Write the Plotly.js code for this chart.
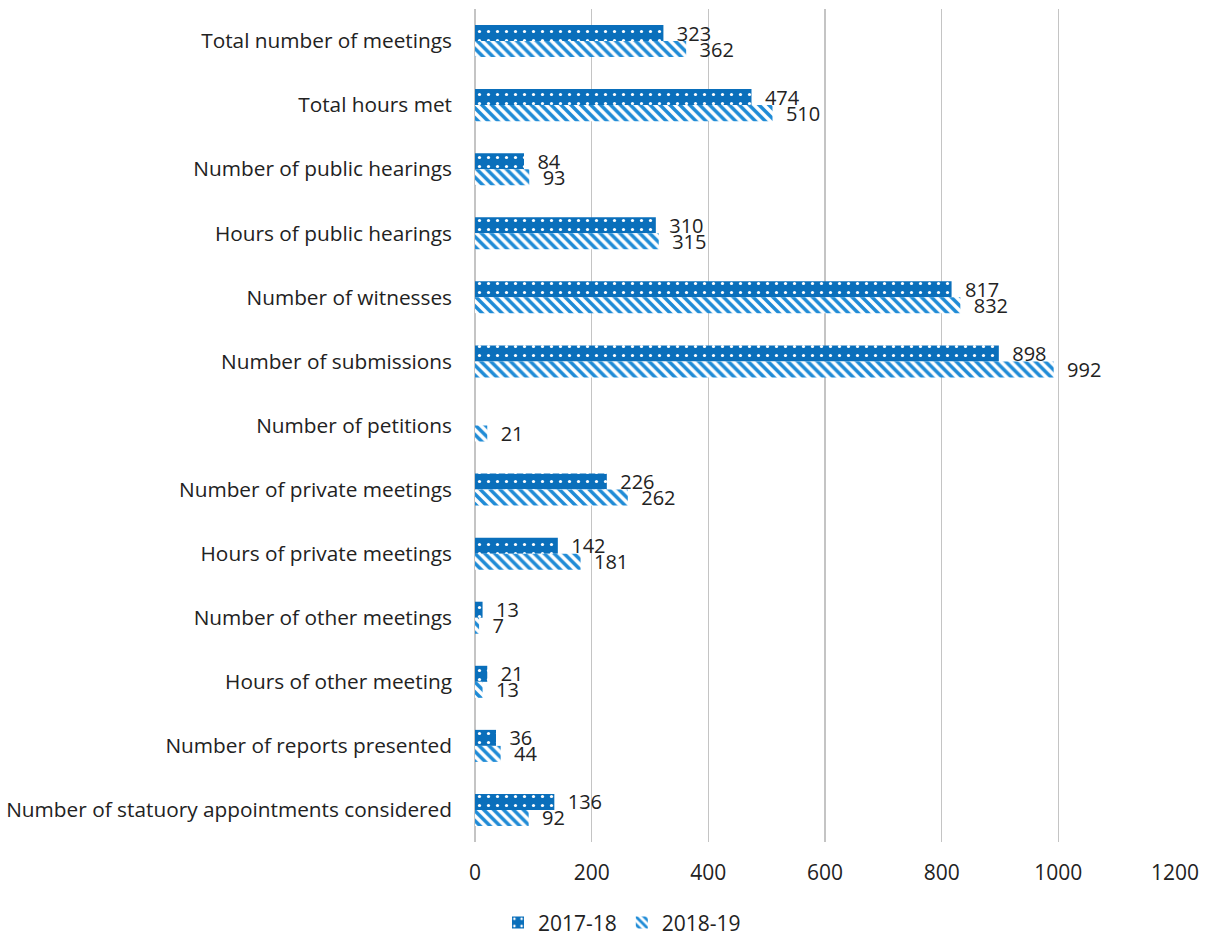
<!DOCTYPE html>
<html>
<head>
<meta charset="utf-8">
<script src="https://cdn.plot.ly/plotly-3.0.1.min.js"></script>
<style>html,body{margin:0;padding:0;background:#fff;}#chart{width:1206px;height:936px;}</style>
</head>
<body>
<div id="chart"></div>
<script>
const categories = [
  "Total number of meetings",
  "Total hours met",
  "Number of public hearings",
  "Hours of public hearings",
  "Number of witnesses",
  "Number of submissions",
  "Number of petitions",
  "Number of private meetings",
  "Hours of private meetings",
  "Number of other meetings",
  "Hours of other meeting",
  "Number of reports presented",
  "Number of statuory appointments considered"
];
const values2017 = [323, 474, 84, 310, 817, 898, null, 226, 142, 13, 21, 36, 136];
const values2018 = [362, 510, 93, 315, 832, 992, 21, 262, 181, 7, 13, 44, 92];
const xTicks = [0, 200, 400, 600, 800, 1000, 1200];

const blue = "#0a6fbb";
const hatchBlue = "#1f8bd6";
const fontFam = "'Open Sans', 'Noto Sans', sans-serif";
const pad = "\u00a0\u00a0";

const traces = [
  {
    type: "bar", orientation: "h", name: "2017-18",
    y: categories, x: values2017,
    text: values2017.map(v => v === null ? "" : pad + v),
    textposition: "outside", cliponaxis: false, constraintext: "none",
    textfont: {size: 20, color: "#222", family: fontFam},
    marker: {color: blue, pattern: {shape: ".", fgcolor: "#ffffff", bgcolor: blue, size: 9, solidity: 0.1, fillmode: "replace"}},
    hoverinfo: "x+y"
  },
  {
    type: "bar", orientation: "h", name: "2018-19",
    y: categories, x: values2018,
    text: values2018.map(v => pad + v),
    textposition: "outside", cliponaxis: false, constraintext: "none",
    textfont: {size: 20, color: "#222", family: fontFam},
    marker: {color: "#ffffff", pattern: {shape: "\\", fgcolor: hatchBlue, bgcolor: "#ffffff", size: 7, solidity: 0.5, fillmode: "replace"}},
    hoverinfo: "x+y"
  }
];

const layout = {
  width: 1206, height: 936,
  margin: {l: 475, r: 31, t: 9, b: 94, autoexpand: false},
  paper_bgcolor: "#fff", plot_bgcolor: "#fff",
  barmode: "group", bargap: 0.5, bargroupgap: 0,
  font: {family: fontFam, size: 21, color: "#222"},
  xaxis: {
    range: [0, 1200], tickvals: xTicks, ticktext: xTicks.map(String),
    showgrid: true, gridcolor: "#c4c4c4", gridwidth: 1.2,
    zeroline: true, zerolinecolor: "#c4c4c4", zerolinewidth: 1.2,
    showline: false, ticks: "", ticklen: 0, ticklabelstandoff: 16,
    tickfont: {size: 21, color: "#222", family: fontFam}
  },
  yaxis: {
    autorange: "reversed", type: "category",
    showgrid: false, zeroline: false, showline: false, ticks: "",
    ticklabelstandoff: 22,
    tickfont: {size: 20.8, color: "#222", family: fontFam}
  },
  showlegend: true,
  legend: {orientation: "h", x: 0.21, xanchor: "center", y: -0.097, yanchor: "middle",
    font: {size: 21, color: "#222", family: fontFam}, traceorder: "normal"}
};

Plotly.newPlot("chart", traces, layout, {displayModeBar: false, staticPlot: true});
</script>
</body>
</html>
